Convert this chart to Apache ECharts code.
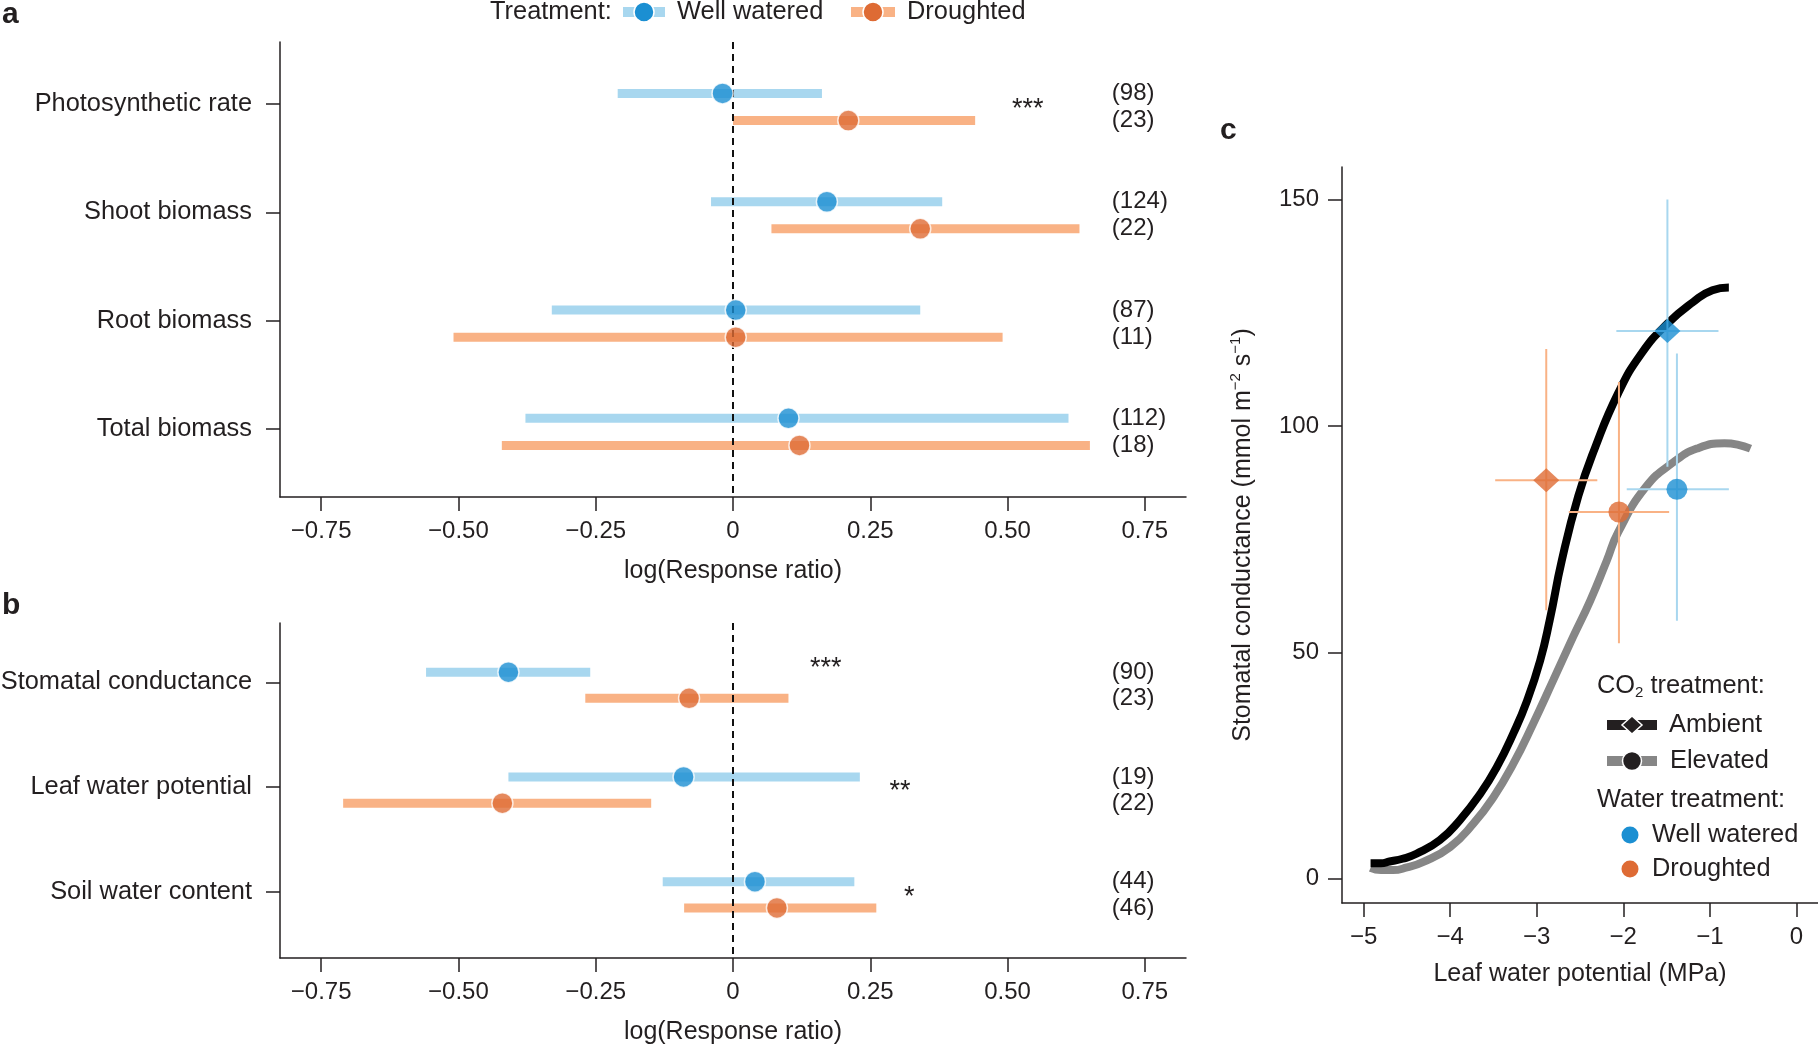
<!DOCTYPE html>
<html>
<head>
<meta charset="utf-8">
<title>Response ratios and stomatal conductance</title>
<script src="https://cdn.jsdelivr.net/npm/echarts@6/dist/echarts.min.js"></script>
<style>
  html, body { margin: 0; padding: 0; background: #fff; }
  #chart { width: 1818px; height: 1047px; }
</style>
</head>
<body>
<div id="chart"></div>
<script>
// ---- data : panel a ----
var catsA = ['Photosynthetic rate', 'Shoot biomass', 'Root biomass', 'Total biomass'];
var wwMeanA = [-0.019, 0.171, 0.005, 0.101];
var wwLowA  = [-0.210, -0.040, -0.330, -0.378];
var wwHighA = [0.162, 0.381, 0.341, 0.611];
var drMeanA = [0.210, 0.341, 0.005, 0.121];
var drLowA  = [0.000, 0.070, -0.509, -0.421];
var drHighA = [0.441, 0.631, 0.491, 0.650];
var wwNA = [98, 124, 87, 112];
var drNA = [23, 22, 11, 18];
var sigA = ['***', '', '', ''];
var sigXA = [0.537, 0, 0, 0];

// ---- data : panel b ----
var catsB = ['Stomatal conductance', 'Leaf water potential', 'Soil water content'];
var wwMeanB = [-0.409, -0.090, 0.040];
var wwLowB  = [-0.559, -0.409, -0.128];
var wwHighB = [-0.260, 0.231, 0.221];
var drMeanB = [-0.080, -0.420, 0.080];
var drLowB  = [-0.269, -0.710, -0.089];
var drHighB = [0.101, -0.149, 0.261];
var wwNB = [90, 19, 44];
var drNB = [23, 22, 46];
var sigB = ['***', '**', '*'];
var sigXB = [0.169, 0.304, 0.321];

// ---- data : panel c ----
var ambientCurveX = [-4.92, -4.80, -4.70, -4.55, -4.39, -4.12, -3.89, -3.65, -3.46, -3.27, -3.11, -2.96, -2.85, -2.71, -2.52, -2.33, -2.06, -1.79, -1.49, -1.19, -0.97, -0.78];
var ambientCurveY = [3.4, 3.4, 3.8, 4.4, 5.5, 8.5, 12.9, 18.8, 24.7, 32.1, 39.4, 48.2, 57.1, 70.3, 84.5, 95.0, 107.2, 116.0, 122.6, 127.4, 130.0, 130.6];
var elevatedCurveX = [-4.92, -4.80, -4.66, -4.50, -4.31, -4.00, -3.73, -3.50, -3.27, -3.04, -2.81, -2.58, -2.38, -2.19, -2.06, -1.74, -1.42, -1.15, -0.83, -0.53];
var elevatedCurveY = [2.4, 1.9, 1.9, 2.5, 3.7, 7.0, 12.2, 18.0, 25.4, 34.3, 43.8, 53.4, 61.5, 70.3, 76.5, 86.5, 92.0, 95.0, 96.2, 95.0];
var ptCO2   = ['Ambient', 'Ambient', 'Elevated', 'Elevated'];
var ptWater = ['Well watered', 'Droughted', 'Well watered', 'Droughted'];
var ptX   = [-1.49, -2.89, -1.38, -2.05];
var ptY   = [121, 88, 86, 81];
var ptXLo = [-2.08, -3.48, -1.96, -2.63];
var ptXHi = [-0.90, -2.30, -0.78, -1.47];
var ptYLo = [91, 59.3, 57, 52];
var ptYHi = [150, 117, 116, 109.7];

// ---- ticks ----
var ratioTicks = [-0.75, -0.5, -0.25, 0, 0.25, 0.5, 0.75];
var psiTicks = [-5, -4, -3, -2, -1, 0];
var gsTicks = [0, 50, 100, 150];

// ---- style ----
var BLUE = '#1b8fd2', BLUE_L = '#a8d7ef';
var ORANGE = '#de6b34', ORANGE_L = '#f9b285';
var INK = '#231f20';
var FONT = "'Liberation Sans', Arial, Helvetica, sans-serif";
var FS = 24;       // ticks, counts
var FS_L = 25.4;   // category labels, legends
var FS_N = 25;     // axis names
var OFF_WW = -0.097, OFF_DR = 0.153;   // row offsets inside a category
var BAR_H = 9;
var COUNT_X = 0.69;
var SIG_DY_A = [0.05, 0, 0, 0];
var SIG_DY_B = [-0.13, 0.04, 0.05];

var myChart = echarts.init(document.getElementById('chart'));

function minusFmt(v, digits) {
  if (v === 0) return '0';
  return (v < 0 ? '\u2212' : '') + Math.abs(v).toFixed(digits);
}

function barItem(params, api) {
  var y = api.value(2);
  var a = api.coord([api.value(0), y]);
  var b = api.coord([api.value(1), y]);
  return {
    type: 'rect',
    shape: { x: a[0], y: a[1] - BAR_H / 2, width: b[0] - a[0], height: BAR_H },
    style: { fill: api.visual('color') }
  };
}

function textSeries(xi, yi, texts, xs, ys, size, align) {
  return {
    type: 'custom', xAxisIndex: xi, yAxisIndex: yi, z: 6, silent: true,
    data: xs.map(function (x, i) { return [x, ys[i]]; }),
    renderItem: function (params, api) {
      var p = api.coord([api.value(0), api.value(1)]);
      return {
        type: 'text', x: p[0], y: p[1],
        style: {
          text: String(texts[params.dataIndex]), fill: INK,
          font: size + 'px ' + FONT, align: align, verticalAlign: 'middle'
        }
      };
    }
  };
}

function forestSeries(idx, cats, wwMean, wwLow, wwHigh, drMean, drLow, drHigh, wwN, drN, sig, sigX, sigDy) {
  var rows = cats.map(function (c, i) { return i; });
  var list = [];
  list.push({
    type: 'custom', xAxisIndex: idx, yAxisIndex: idx, z: 2, silent: true,
    itemStyle: { color: BLUE_L },
    encode: { x: [0, 1], y: 2 },
    data: rows.map(function (i) { return [wwLow[i], wwHigh[i], i + OFF_WW]; }),
    renderItem: barItem
  });
  list.push({
    type: 'custom', xAxisIndex: idx, yAxisIndex: idx, z: 2, silent: true,
    itemStyle: { color: ORANGE_L },
    encode: { x: [0, 1], y: 2 },
    data: rows.map(function (i) { return [drLow[i], drHigh[i], i + OFF_DR]; }),
    renderItem: barItem,
    markLine: {
      silent: true, symbol: ['none', 'none'], label: { show: false },
      lineStyle: { color: '#111', width: 2, type: [7, 5] },
      data: [{ xAxis: 0 }]
    }
  });
  list.push({
    type: 'scatter', xAxisIndex: idx, yAxisIndex: idx, z: 5, symbolSize: 21,
    itemStyle: { color: BLUE, borderColor: '#fff', borderWidth: 1.5 },
    data: rows.map(function (i) { return [wwMean[i], i + OFF_WW]; })
  });
  list.push({
    type: 'scatter', xAxisIndex: idx, yAxisIndex: idx, z: 5, symbolSize: 21,
    itemStyle: { color: ORANGE, borderColor: '#fff', borderWidth: 1.5 },
    data: rows.map(function (i) { return [drMean[i], i + OFF_DR]; })
  });
  var nTexts = [], nX = [], nY = [];
  rows.forEach(function (i) {
    nTexts.push('(' + wwN[i] + ')'); nX.push(COUNT_X); nY.push(i + OFF_WW);
    nTexts.push('(' + drN[i] + ')'); nX.push(COUNT_X); nY.push(i + OFF_DR);
  });
  list.push(textSeries(idx, idx, nTexts, nX, nY, FS, 'left'));
  var sT = [], sX = [], sY = [];
  rows.forEach(function (i) {
    if (sig[i]) { sT.push(sig[i]); sX.push(sigX[i]); sY.push(i + sigDy[i]); }
  });
  list.push(textSeries(idx, idx, sT, sX, sY, 27, 'center'));
  return list;
}

var axisLineStyle = { color: INK, width: 1.5 };

function ratioXAxis(gi) {
  return {
    type: 'value', gridIndex: gi, min: -0.825, max: 0.825,
    name: 'log(Response ratio)', nameLocation: 'middle', nameGap: 62,
    nameTextStyle: { fontFamily: FONT, fontSize: FS_N, color: INK },
    axisLine: { show: true, onZero: false, lineStyle: axisLineStyle },
    axisTick: { show: true, length: 14, lineStyle: axisLineStyle, customValues: ratioTicks },
    axisLabel: {
      margin: 22, fontFamily: FONT, fontSize: FS, color: INK, customValues: ratioTicks,
      formatter: function (v) { return minusFmt(v, 2); }
    },
    splitLine: { show: false }
  };
}

function catYAxis(gi, cats, minV, maxV) {
  var ticks = cats.map(function (c, i) { return i; });
  return {
    type: 'value', gridIndex: gi, inverse: true, min: minV, max: maxV,
    axisLine: { show: true, onZero: false, lineStyle: axisLineStyle },
    axisTick: { show: true, length: 14, lineStyle: axisLineStyle, customValues: ticks },
    axisLabel: {
      margin: 28, fontFamily: FONT, fontSize: FS_L, color: INK, customValues: ticks,
      formatter: function (v) { return cats[Math.round(v)]; }
    },
    splitLine: { show: false }
  };
}

var seriesC = [
  {
    type: 'line', xAxisIndex: 2, yAxisIndex: 2, z: 2, smooth: 0.5,
    showSymbol: false, silent: true,
    lineStyle: { color: '#868686', width: 8, cap: 'butt' },
    data: elevatedCurveX.map(function (x, i) { return [x, elevatedCurveY[i]]; })
  },
  {
    type: 'line', xAxisIndex: 2, yAxisIndex: 2, z: 3, smooth: 0.5,
    showSymbol: false, silent: true,
    lineStyle: { color: '#000', width: 8, cap: 'butt' },
    data: ambientCurveX.map(function (x, i) { return [x, ambientCurveY[i]]; })
  },
  {
    type: 'custom', xAxisIndex: 2, yAxisIndex: 2, z: 4, silent: true,
    data: ptX.map(function (x, i) { return [x, ptY[i]]; }),
    renderItem: function (params, api) {
      var i = params.dataIndex;
      var col = ptWater[i] === 'Droughted' ? ORANGE_L : BLUE_L;
      var l = api.coord([ptXLo[i], ptY[i]]), r = api.coord([ptXHi[i], ptY[i]]);
      var t = api.coord([ptX[i], ptYHi[i]]), b = api.coord([ptX[i], ptYLo[i]]);
      return {
        type: 'group', children: [
          { type: 'line', shape: { x1: l[0], y1: l[1], x2: r[0], y2: r[1] }, style: { stroke: col, lineWidth: 2 } },
          { type: 'line', shape: { x1: t[0], y1: t[1], x2: b[0], y2: b[1] }, style: { stroke: col, lineWidth: 2 } }
        ]
      };
    }
  },
  {
    type: 'scatter', xAxisIndex: 2, yAxisIndex: 2, z: 5,
    data: ptX.map(function (x, i) {
      var amb = ptCO2[i] === 'Ambient';
      return {
        value: [x, ptY[i]],
        symbol: amb ? 'diamond' : 'circle',
        symbolSize: amb ? [26, 24] : 21,
        itemStyle: { color: ptWater[i] === 'Droughted' ? ORANGE : BLUE }
      };
    })
  }
];

var txt = function (x, y, s, extra) {
  var o = { type: 'text', x: x, y: y, style: { text: s, font: FS_L + 'px ' + FONT, fill: INK, verticalAlign: 'middle' } };
  if (extra) for (var k in extra) o.style[k] = extra[k];
  return o;
};

var graphics = [
  txt(2, 15, 'a', { font: 'bold 30px ' + FONT }),
  txt(2, 606, 'b', { font: 'bold 30px ' + FONT }),
  txt(1220, 131, 'c', { font: 'bold 30px ' + FONT }),
  // top legend
  txt(490, 12, 'Treatment:'),
  { type: 'rect', shape: { x: 623, y: 7, width: 42, height: 10 }, style: { fill: BLUE_L } },
  { type: 'circle', shape: { cx: 644, cy: 12, r: 10 }, style: { fill: BLUE, stroke: '#fff', lineWidth: 1.5 } },
  txt(677, 12, 'Well watered'),
  { type: 'rect', shape: { x: 851, y: 7, width: 44, height: 10 }, style: { fill: ORANGE_L } },
  { type: 'circle', shape: { cx: 873, cy: 12, r: 10 }, style: { fill: ORANGE, stroke: '#fff', lineWidth: 1.5 } },
  txt(907, 12, 'Droughted'),
  // panel c legend
  {
    type: 'text', x: 1597, y: 686,
    style: {
      text: '{n|CO}{s|2}{n| treatment:}', verticalAlign: 'middle',
      rich: {
        n: { font: FS_L + 'px ' + FONT, fill: INK, lineHeight: 28 },
        s: { font: '15px ' + FONT, fill: INK, lineHeight: 14, verticalAlign: 'bottom' }
      }
    }
  },
  { type: 'rect', shape: { x: 1607, y: 720, width: 50, height: 10 }, style: { fill: '#231f20' } },
  { type: 'polygon', shape: { points: [[1632, 716], [1642, 725], [1632, 734], [1622, 725]] }, style: { fill: '#231f20', stroke: '#fff', lineWidth: 1.5 } },
  txt(1669, 725, 'Ambient'),
  { type: 'rect', shape: { x: 1607, y: 756, width: 50, height: 10 }, style: { fill: '#868686' } },
  { type: 'circle', shape: { cx: 1632, cy: 761, r: 9.5 }, style: { fill: '#231f20', stroke: '#fff', lineWidth: 1.5 } },
  txt(1670, 761, 'Elevated'),
  txt(1597, 800, 'Water treatment:'),
  { type: 'circle', shape: { cx: 1630, cy: 835, r: 8.5 }, style: { fill: BLUE } },
  txt(1652, 835, 'Well watered'),
  { type: 'circle', shape: { cx: 1630, cy: 869, r: 8.5 }, style: { fill: ORANGE } },
  txt(1652, 869, 'Droughted')
];

var option = {
  animation: false,
  backgroundColor: '#fff',
  textStyle: { fontFamily: FONT },
  grid: [
    { left: 280, top: 42, width: 906, height: 455, outerBoundsMode: 'none', containLabel: false },
    { left: 280, top: 623, width: 906, height: 335, outerBoundsMode: 'none', containLabel: false },
    { left: 1342, top: 167, width: 476, height: 736, outerBoundsMode: 'none', containLabel: false }
  ],
  xAxis: [
    ratioXAxis(0),
    ratioXAxis(1),
    {
      type: 'value', gridIndex: 2, min: -5.25, max: 0.25,
      name: 'Leaf water potential (MPa)', nameLocation: 'middle', nameGap: 59,
      nameTextStyle: { fontFamily: FONT, fontSize: FS_N, color: INK },
      axisLine: { show: true, onZero: false, lineStyle: axisLineStyle },
      axisTick: { show: true, length: 14, lineStyle: axisLineStyle, customValues: psiTicks },
      axisLabel: {
        margin: 22, fontFamily: FONT, fontSize: FS, color: INK, customValues: psiTicks,
        formatter: function (v) { return minusFmt(v, 0); }
      },
      splitLine: { show: false }
    }
  ],
  yAxis: [
    catYAxis(0, catsA, -0.572, 3.629),
    catYAxis(1, catsB, -0.566, 2.631),
    {
      type: 'value', gridIndex: 2, min: -5.37, max: 157.2,
      name: '{n|Stomatal conductance (mmol m}{s|\u22122}{n| s}{s|\u22121}{n|)}',
      nameLocation: 'middle', nameGap: 84, nameRotate: 90,
      nameTextStyle: {
        rich: {
          n: { fontFamily: FONT, fontSize: FS_N, color: INK, lineHeight: 30 },
          s: { fontFamily: FONT, fontSize: 15, color: INK, lineHeight: 14, verticalAlign: 'top' }
        }
      },
      axisLine: { show: true, onZero: false, lineStyle: axisLineStyle },
      axisTick: { show: true, length: 14, lineStyle: axisLineStyle, customValues: gsTicks },
      axisLabel: { margin: 23, fontFamily: FONT, fontSize: FS, color: INK, customValues: gsTicks },
      splitLine: { show: false }
    }
  ],
  graphic: graphics,
  series: []
    .concat(forestSeries(0, catsA, wwMeanA, wwLowA, wwHighA, drMeanA, drLowA, drHighA, wwNA, drNA, sigA, sigXA, SIG_DY_A))
    .concat(forestSeries(1, catsB, wwMeanB, wwLowB, wwHighB, drMeanB, drLowB, drHighB, wwNB, drNB, sigB, sigXB, SIG_DY_B))
    .concat(seriesC)
};

myChart.setOption(option);
</script>
</body>
</html>
